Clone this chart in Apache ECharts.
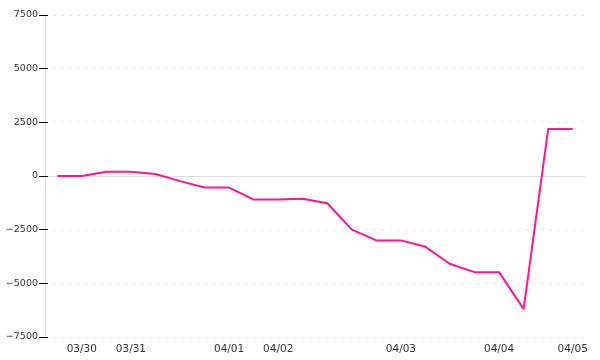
<!DOCTYPE html>
<html>
<head>
<meta charset="utf-8">
<script src="https://cdn.jsdelivr.net/npm/echarts@6/dist/echarts.min.js"></script>
<style>html,body{margin:0;padding:0;background:#fff;}#c{width:600px;height:360px;}</style>
</head>
<body>
<div id="c"></div>
<script>
var categories = ["p0","p1","p2","p3","p4","p5","p6","p7","p8","p9","p10","p11","p12","p13","p14","p15","p16","p17","p18","p19","p20","p21"];
var tickLabels = ["","03/30","","03/31","","","","04/01","","04/02","","","","","04/03","","","","04/04","","","04/05"];
var values = [0,0,200,200,90,-240,-540,-540,-1100,-1100,-1060,-1270,-2500,-3000,-3000,-3300,-4100,-4480,-4480,-6200,2190,2190];
var yTicks = {min:-7500, max:7500, interval:2500};

var chart = echarts.init(document.getElementById('c'), null, {renderer:'canvas'});
chart.setOption({
  animation:false,
  grid:{left:45, right:15, top:15, bottom:23, containLabel:false},
  xAxis:[{
    type:'category', data:categories, boundaryGap:true, position:'bottom',
    axisLine:{show:false, onZero:false}, axisTick:{show:false},
    splitLine:{show:false},
    axisLabel:{interval:0, margin:7, color:'#333', fontFamily:'DejaVu Sans', fontSize:10.5,
      formatter:function(v,i){return tickLabels[i];}}
  },{
    type:'category', data:categories, boundaryGap:true, position:'bottom',
    axisLine:{show:true, onZero:true, onZeroAxisIndex:0, lineStyle:{color:'#dddddd', width:1}},
    axisTick:{show:false}, axisLabel:{show:false}, splitLine:{show:false}
  }],
  yAxis:[{
    type:'value', position:'left', min:yTicks.min, max:yTicks.max, interval:yTicks.interval,
    axisLine:{show:true, lineStyle:{color:'#dddddd', width:1}},
    axisTick:{show:true, length:6, lineStyle:{color:'#000', width:1}},
    axisLabel:{margin:7, color:'#333', fontFamily:'DejaVu Sans', fontSize:9.5,
      formatter:function(v){return v<0 ? '\u2212'+Math.abs(v) : String(v);}},
    splitLine:{show:true, lineStyle:{color:'#e6e6e6', type:[3,5], width:1}}
  },{
    type:'value', position:'left', min:yTicks.min, max:yTicks.max, interval:yTicks.interval,
    axisLine:{show:false},
    axisTick:{show:true, inside:true, length:3, lineStyle:{color:'#000', width:1}},
    axisLabel:{show:false}, splitLine:{show:false}
  }],
  series:[{
    type:'line', data:values, symbol:'none', xAxisIndex:0, yAxisIndex:0,
    lineStyle:{color:'#ff1493', width:2}, itemStyle:{color:'#ff1493'}
  }]
});
</script>
</body>
</html>
